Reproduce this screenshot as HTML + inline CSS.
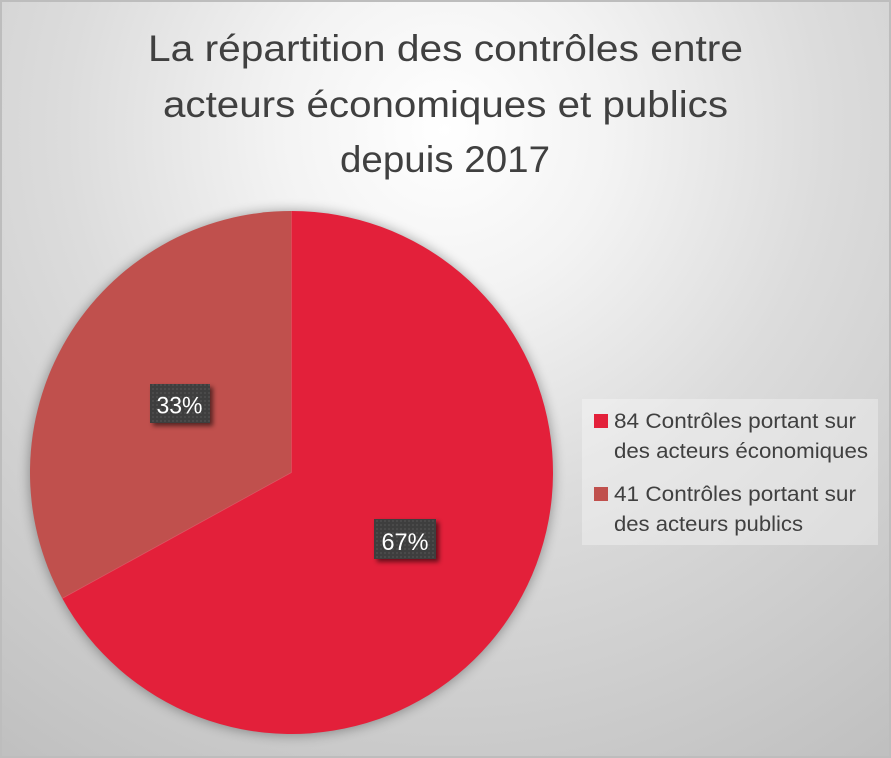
<!DOCTYPE html>
<html>
<head>
<meta charset="utf-8">
<style>
html,body{margin:0;padding:0;}
body{width:891px;height:758px;overflow:hidden;}
svg{display:block;}
</style>
</head>
<body>
<svg width="891" height="758" viewBox="0 0 891 758" xmlns="http://www.w3.org/2000/svg">
  <defs>
    <radialGradient id="bg" gradientUnits="userSpaceOnUse" cx="445" cy="130" r="760">
      <stop offset="0" stop-color="#ffffff"/>
      <stop offset="0.22" stop-color="#f3f3f3"/>
      <stop offset="0.5" stop-color="#dcdcdc"/>
      <stop offset="1" stop-color="#c0c0c0"/>
    </radialGradient>
    <filter id="pieShadow" x="-20%" y="-20%" width="140%" height="140%">
      <feGaussianBlur stdDeviation="6"/>
    </filter>
    <filter id="lblShadow" x="-30%" y="-30%" width="160%" height="160%">
      <feGaussianBlur stdDeviation="2.5"/>
    </filter>
    <pattern id="dots" width="4" height="4" patternUnits="userSpaceOnUse">
      <rect width="4" height="4" fill="#3e3e3e"/>
      <rect x="0" y="0" width="2" height="2" fill="#4a4a4a"/>
    </pattern>
  </defs>

  <!-- background -->
  <rect x="0" y="0" width="891" height="758" fill="url(#bg)"/>
  <rect x="1" y="1" width="889" height="756" fill="none" stroke="#bdbdbd" stroke-width="2"/>

  <!-- title -->
  <g font-family="'Liberation Sans', sans-serif" font-size="37" fill="#404040">
    <text x="148" y="61" textLength="595" lengthAdjust="spacingAndGlyphs">La répartition des contrôles entre</text>
    <text x="163" y="117" textLength="565" lengthAdjust="spacingAndGlyphs">acteurs économiques et publics</text>
    <text x="340" y="172" textLength="210" lengthAdjust="spacingAndGlyphs">depuis 2017</text>
  </g>

  <!-- pie shadow -->
  <circle cx="291.5" cy="473" r="262" fill="#000" opacity="0.35" filter="url(#pieShadow)"/>

  <!-- pie slices -->
  <path d="M291.5,472.5 L291.5,211 A261.5,261.5 0 1 1 62.3,598.4 Z" fill="#E3203A"/>
  <path d="M291.5,472.5 L62.3,598.4 A261.5,261.5 0 0 1 291.5,211 Z" fill="#C0504D"/>
  <line x1="291.5" y1="472.5" x2="291.5" y2="211" stroke="#e86070" stroke-width="0.8" opacity="0.6"/>
  <line x1="291.5" y1="472.5" x2="62.3" y2="598.4" stroke="#e86070" stroke-width="0.8" opacity="0.6"/>

  <!-- data labels -->
  <rect x="153" y="387" width="60" height="39" fill="#000" opacity="0.55" filter="url(#lblShadow)"/>
  <rect x="150" y="384" width="60" height="39" fill="url(#dots)"/>
  <text x="156.5" y="413.5" font-family="'Liberation Sans', sans-serif" font-size="24" fill="#ffffff" textLength="46" lengthAdjust="spacingAndGlyphs">33%</text>

  <rect x="377" y="522" width="62" height="40" fill="#000" opacity="0.55" filter="url(#lblShadow)"/>
  <rect x="374" y="519" width="62" height="40" fill="url(#dots)"/>
  <text x="381.5" y="550" font-family="'Liberation Sans', sans-serif" font-size="24" fill="#ffffff" textLength="47" lengthAdjust="spacingAndGlyphs">67%</text>

  <!-- legend -->
  <rect x="582" y="399" width="296" height="146" fill="#ffffff" opacity="0.32"/>
  <rect x="594" y="414" width="14" height="14" fill="#E3203A"/>
  <rect x="594" y="487" width="14" height="14" fill="#C0504D"/>
  <g font-family="'Liberation Sans', sans-serif" font-size="21" fill="#404040">
    <text x="614" y="428" textLength="242" lengthAdjust="spacingAndGlyphs">84 Contrôles portant sur</text>
    <text x="614" y="458" textLength="254" lengthAdjust="spacingAndGlyphs">des acteurs économiques</text>
    <text x="614" y="501" textLength="242" lengthAdjust="spacingAndGlyphs">41 Contrôles portant sur</text>
    <text x="614" y="531" textLength="189" lengthAdjust="spacingAndGlyphs">des acteurs publics</text>
  </g>
</svg>
</body>
</html>
